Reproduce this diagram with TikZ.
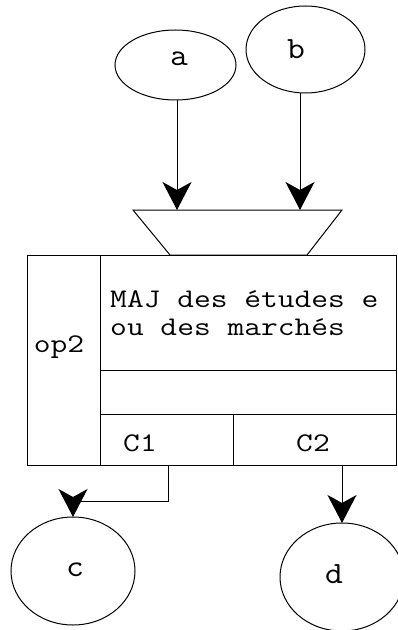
\documentclass[tikz,border=0pt]{standalone}
\usepackage{fontspec}
\usetikzlibrary{shapes.geometric,arrows.meta}
\tikzset{
  ell/.style={draw, ellipse, line width=1bp, inner sep=0pt, outer sep=0pt},
  cell/.style={draw, rectangle, line width=1bp, inner sep=0pt, outer sep=0pt},
  txt/.style={inner sep=0pt, font=\ttfamily\fontsize{27}{28}\selectfont, xscale=1.21, transform shape},
  lbl/.style={inner sep=0pt, font=\ttfamily\fontsize{31}{32}\selectfont, xscale=1.12, transform shape},
  arr/.style={line width=1bp, -{Stealth[length=28bp,width=29bp,inset=8bp]}},
}
\begin{document}
\begin{tikzpicture}[x=1bp,y=-1bp]
\useasboundingbox (0,0) rectangle (397,630);
% ellipses
\node[ell, minimum width=121bp, minimum height=70bp] (a) at (175.5,65) {};
\node[ell, minimum width=119bp, minimum height=87bp] (b) at (305.5,49.5) {};
\node[ell, minimum width=124bp, minimum height=108bp] (c) at (73,571) {};
\node[ell, minimum width=124bp, minimum height=108bp] (d) at (342,577) {};
\node[lbl] (at) at (179,59) {a};
\node[lbl] (bt) at (296,49) {b};
\node[lbl] (ct) at (75,570) {c};
\node[lbl] (dt) at (334,574) {d};
% trapezoid
\coordinate (tTL) at (133,210);
\coordinate (tTR) at (342,210);
\coordinate (tBR) at (307,255);
\coordinate (tBL) at (170,255);
\draw[line width=1bp] (tTL) -- (tTR) -- (tBR) -- (tBL) -- cycle;
% box cells
\node[cell, minimum width=73bp, minimum height=210bp] (op) at (63.5,360) {};
\node[cell, minimum width=296bp, minimum height=115bp] (main) at (248,312.5) {};
\node[cell, minimum width=296bp, minimum height=44bp] (blank) at (248,392) {};
\node[cell, minimum width=133bp, minimum height=51bp] (c1) at (166.5,439.5) {};
\node[cell, minimum width=163bp, minimum height=51bp] (c2) at (314.5,439.5) {};
\node[txt] (opt) at (59,347) {op2};
\node[txt, anchor=west] (m1) at (110,299) {MAJ des études e};
\node[txt, anchor=west] (m2) at (110,327) {ou des marchés};
\node[txt] (c1t) at (140,443) {C1};
\node[txt] (c2t) at (313,443) {C2};
% arrows
\draw[arr] ([xshift=1.5bp]a.south) -- ([xshift=1.5bp]a.south |- tTL);
\draw[arr] ([xshift=-5.5bp,yshift=-0.5bp]b.south) -- ([xshift=-5.5bp]b.south |- tTL);
\draw[arr] ([xshift=1.5bp]c1.south) -- ++(0,36) -| (c.north);
\draw[arr] (d.north |- c2.south) -- (d.north);
\end{tikzpicture}
\end{document}
